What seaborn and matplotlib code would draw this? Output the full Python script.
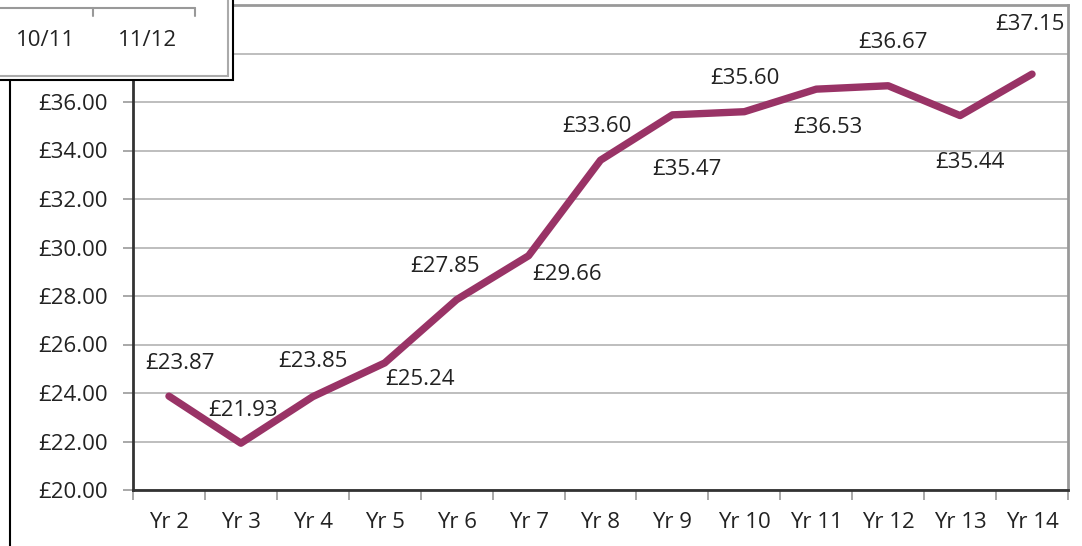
"""Average price per year, line chart with value labels."""

import matplotlib

matplotlib.use("Agg")
import matplotlib.pyplot as plt
import matplotlib.lines as mlines
import matplotlib.patches as mpatches
import numpy as np
import pandas as pd
import seaborn as sns

years = ["Yr 2", "Yr 3", "Yr 4", "Yr 5", "Yr 6", "Yr 7", "Yr 8",
         "Yr 9", "Yr 10", "Yr 11", "Yr 12", "Yr 13", "Yr 14"]
prices = [23.87, 21.93, 23.85, 25.24, 27.85, 29.66, 33.60,
          35.47, 35.60, 36.53, 36.67, 35.44, 37.15]
y_ticks = [20, 22, 24, 26, 28, 30, 32, 34, 36, 38, 40]
header_labels = ["10/11", "11/12"]

LINE = "#993366"
FS = 16

sns.set_theme(style="white")
plt.rcParams["font.family"] = ["Open Sans", "DejaVu Sans"]

frame = pd.DataFrame({"year": years, "price": prices})

fig = plt.figure(figsize=(10.82, 5.46), dpi=100)
ax = fig.add_axes([133 / 1082, 1 - 490 / 546, (1068 - 133) / 1082, (490 - 5) / 546])

ax.set_yticks(y_ticks)
ax.yaxis.grid(True, color="#b3b3b3", linewidth=1.2)
ax.set_axisbelow(True)

sns.lineplot(data=frame, x="year", y="price", sort=False, color=LINE,
             linewidth=5.3, solid_capstyle="round", solid_joinstyle="round", ax=ax)

# label offsets in pixels (dx, dy)
offsets = [(11, 33), (2, 33), (0, 35), (35, -17), (-12, 33), (38, -19), (-4, 34),
           (15, -55), (1, 33), (12, -38), (5, 43), (10, -47), (-2, 50)]
for i, (val, (dx, dy)) in enumerate(zip(prices, offsets)):
    ax.annotate(f"£{val:.2f}", (i, val), xytext=(dx, dy), textcoords="offset pixels",
                ha="center", va="center", fontsize=FS, color="#222222")

ax.set_ylim(20, 40)
ax.set_xlim(-0.5, len(years) - 0.5)
# the top two labels sit behind the header box in the source, so leave them blank
ax.set_yticklabels([f"£{v:.2f}" if v < 37 else "" for v in y_ticks])
ax.set_xlabel("")
ax.set_ylabel("")

ax.set_xticks(np.arange(-0.5, len(years)), minor=True)
ax.tick_params(axis="x", which="major", length=0, pad=16, labelsize=FS, colors="#222222")
ax.tick_params(axis="x", which="minor", length=7, width=1.2, color="#999999", bottom=True)
ax.tick_params(axis="y", which="major", length=7, width=1.2, color="#999999",
               left=True, labelsize=FS, labelcolor="#222222", pad=11)

for side in ["left", "bottom"]:
    ax.spines[side].set_color("#333333")
    ax.spines[side].set_linewidth(2)
for side in ["top", "right"]:
    ax.spines[side].set_color("#999999")
    ax.spines[side].set_linewidth(2)

# overlapping header box from the cropped source page
def px(x, y):
    return x / 1082, 1 - y / 546

fig.patches.append(mpatches.Rectangle(px(-5, 80), 238 / 1082, 85 / 546, transform=fig.transFigure,
                                      facecolor="white", edgecolor="black", linewidth=1.5, zorder=5))
fig.patches.append(mpatches.Rectangle(px(-5, 76), 233 / 1082, 81 / 546, transform=fig.transFigure,
                                      facecolor="none", edgecolor="#aaaaaa", linewidth=1.5, zorder=6))
bracket_x = [0, 93, 195]
fig.lines.append(mlines.Line2D([px(0, 0)[0], px(195, 0)[0]], [px(0, 8)[1]] * 2,
                               transform=fig.transFigure, color="#999999", linewidth=1.5, zorder=7))
for bx in bracket_x[1:]:
    fig.lines.append(mlines.Line2D([px(bx, 0)[0]] * 2, [px(0, 8)[1], px(0, 16)[1]],
                                   transform=fig.transFigure, color="#999999", linewidth=1.5, zorder=7))
for label, cx in zip(header_labels, [45, 148]):
    fig.text(*px(cx, 41), label, ha="center", va="center", fontsize=FS, color="#222222", zorder=8)
fig.lines.append(mlines.Line2D([px(10, 0)[0]] * 2, [px(0, 80)[1], 0], transform=fig.transFigure,
                               color="black", linewidth=1.5, zorder=7))

fig.savefig("out.png", dpi=100)
plt.close(fig)
